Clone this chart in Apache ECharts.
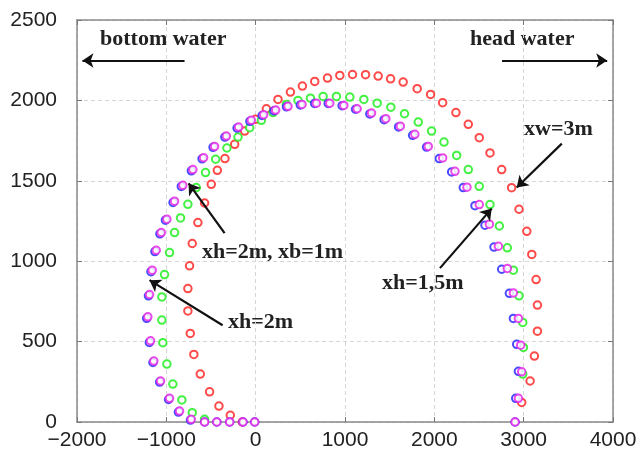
<!DOCTYPE html>
<html>
<head>
<meta charset="utf-8">
<script src="https://cdn.jsdelivr.net/npm/echarts@6/dist/echarts.min.js"></script>
<style>
  html, body { margin: 0; padding: 0; background: #fff; }
  #main { width: 642px; height: 458px; }
</style>
</head>
<body>
<div id="main"></div>
<script>
// point lists: [x, y]
var redPts = [
  [-150, 0], [-284, 42], [-411, 99], [-516, 188], [-620, 298], [-692, 420], [-732, 551],
  [-759, 691], [-759, 830], [-740, 971], [-710, 1110], [-647, 1240], [-572, 1362],
  [-497, 1478], [-429, 1565], [-344, 1638], [-235, 1727], [-123, 1809], [-3, 1882],
  [120, 1948], [250, 2006], [389, 2052], [523, 2089], [661, 2118], [804, 2139],
  [942, 2155], [1084, 2161], [1230, 2160], [1371, 2151], [1510, 2134], [1651, 2114],
  [1808, 2073], [1958, 2037], [2093, 1986], [2242, 1924], [2380, 1851], [2503, 1768],
  [2623, 1673], [2754, 1570], [2865, 1457], [2948, 1323], [3035, 1186], [3091, 1042],
  [3139, 886], [3154, 727], [3154, 565], [3120, 410], [3072, 255], [2978, 122]
];
var greenPts = [
  [-572, 17], [-710, 58], [-826, 137], [-927, 236], [-994, 360], [-1039, 493],
  [-1050, 634], [-1050, 778], [-1020, 917], [-964, 1054], [-908, 1178], [-841, 1269],
  [-759, 1354], [-665, 1458], [-561, 1551], [-448, 1634], [-322, 1704], [-198, 1772],
  [-67, 1830], [64, 1876], [194, 1924], [344, 1975], [474, 2000], [613, 2014],
  [755, 2025], [904, 2025], [1054, 2021], [1211, 2006], [1360, 1983], [1513, 1958],
  [1666, 1917], [1820, 1865], [1969, 1809], [2108, 1741], [2250, 1658], [2380, 1570],
  [2503, 1466], [2623, 1352], [2728, 1219], [2817, 1083], [2885, 944], [2948, 785],
  [2990, 619], [2997, 464], [2990, 298]
];
var bluePts = [
  [-11, 0], [-142, 0], [-291, 0], [-435, 0], [-572, 0], [-730, 12], [-865, 62],
  [-975, 140], [-1075, 248], [-1150, 370], [-1190, 495], [-1220, 645], [-1200, 785],
  [-1172, 935], [-1128, 1060], [-1072, 1170], [-1010, 1255], [-925, 1365], [-832, 1465],
  [-720, 1562], [-600, 1637], [-477, 1708], [-345, 1772], [-208, 1828], [-65, 1870],
  [72, 1906], [205, 1935], [345, 1960], [500, 1972], [660, 1981], [812, 1981],
  [968, 1967], [1118, 1945], [1278, 1916], [1438, 1880], [1600, 1835], [1757, 1783],
  [1913, 1710], [2055, 1638], [2194, 1555], [2324, 1458], [2455, 1345], [2567, 1224],
  [2668, 1088], [2754, 950], [2840, 800], [2885, 644], [2922, 483], [2941, 315],
  [2911, 147], [2904, 0]
];
var magentaPts = [
  [-11, 0], [-142, 0], [-291, 0], [-435, 0], [-572, 0], [-721, 17], [-852, 68],
  [-964, 147], [-1065, 255], [-1140, 379], [-1177, 505], [-1207, 654], [-1188, 793],
  [-1158, 944], [-1113, 1068], [-1057, 1178], [-994, 1261], [-908, 1373], [-815, 1472],
  [-703, 1570], [-583, 1644], [-460, 1714], [-328, 1778], [-191, 1834], [-48, 1876],
  [90, 1911], [224, 1940], [362, 1963], [519, 1975], [680, 1983], [830, 1983],
  [987, 1969], [1136, 1948], [1297, 1921], [1457, 1886], [1620, 1840], [1782, 1789],
  [1932, 1714], [2093, 1642], [2231, 1559], [2365, 1460], [2503, 1352], [2616, 1230],
  [2717, 1093], [2817, 955], [2885, 803], [2941, 644], [2967, 478], [2978, 312],
  [2941, 147], [2904, 0]
];

// annotation arrows in data coordinates: [tail, tip]
var arrows = [
  [[-796, 2248], [-1939, 2248]],
  [[2758, 2248], [3935, 2248]],
  [[3427, 1731], [2922, 1458]],
  [[2063, 957], [2642, 1327]],
  [[-348, 1174], [-751, 1484]],
  [[-370, 602], [-1188, 882]]
];

var labelFont = 'Liberation Sans';
var noteFont = { fontFamily: 'Liberation Serif', fontWeight: 'bold', fontSize: 22, fill: '#222' };

var chartDom = document.getElementById('main');
var myChart = echarts.init(chartDom);

function plain(v) { return String(v).replace('-', '\u2212'); }

function pts(name, color, data, z) {
  return {
    name: name,
    type: 'scatter',
    data: data,
    symbol: 'emptyCircle',
    symbolSize: 7.5,
    z: z,
    itemStyle: { color: color, borderColor: color, borderWidth: 2.4, opacity: 0.85 }
  };
}

var axisLine = { show: true, onZero: false, lineStyle: { color: '#8a8a8a', width: 1.5 } };
var tick = { inside: true, length: 5, lineStyle: { color: '#777' } };

var option = {
  animation: false,
  grid: { left: 77, right: 29, top: 20, bottom: 36 },
  xAxis: [
    {
      type: 'value', min: -2000, max: 4000, interval: 1000,
      axisLine: axisLine, axisTick: tick,
      axisLabel: { fontFamily: labelFont, fontSize: 21, color: '#222', margin: 8, formatter: plain },
      splitLine: { show: true, lineStyle: { color: '#d6d6d6', type: [4, 3] } }
    },
    {
      type: 'value', position: 'top', min: -2000, max: 4000, interval: 1000,
      axisLine: axisLine, axisTick: tick,
      axisLabel: { show: false },
      splitLine: { show: false }
    }
  ],
  yAxis: [
    {
      type: 'value', min: 0, max: 2500, interval: 500,
      axisLine: axisLine, axisTick: tick,
      axisLabel: { fontFamily: labelFont, fontSize: 21, color: '#222', margin: 20, formatter: plain },
      splitLine: { show: true, lineStyle: { color: '#d6d6d6', type: [4, 3] } }
    },
    {
      type: 'value', position: 'right', min: 0, max: 2500, interval: 500,
      axisLine: axisLine, axisTick: tick,
      axisLabel: { show: false },
      splitLine: { show: false }
    }
  ],
  series: [
    pts('xw=3m', '#ff2a2a', redPts, 2),
    pts('xh=1,5m', '#22ee22', greenPts, 3),
    pts('xh=2m', '#2a2aff', bluePts, 4),
    pts('xh=2m, xb=1m', '#e52ae5', magentaPts, 5),
    {
      type: 'lines',
      coordinateSystem: 'cartesian2d',
      symbol: ['none', 'arrow'],
      symbolSize: 11,
      z: 10,
      lineStyle: { color: '#111', width: 2.2, opacity: 1 },
      data: arrows.map(function (a) { return { coords: a }; })
    }
  ],
  graphic: [
    { type: 'text', left: 100, top: 28, style: Object.assign({ text: 'bottom water' }, noteFont) },
    { type: 'text', left: 470, top: 28, style: Object.assign({ text: 'head water' }, noteFont) },
    { type: 'text', left: 524, top: 118, style: Object.assign({ text: 'xw=3m' }, noteFont) },
    { type: 'text', left: 382, top: 272, style: Object.assign({ text: 'xh=1,5m' }, noteFont) },
    { type: 'text', left: 202, top: 241, style: Object.assign({ text: 'xh=2m, xb=1m' }, noteFont) },
    { type: 'text', left: 228, top: 311, style: Object.assign({ text: 'xh=2m' }, noteFont) }
  ]
};

option && myChart.setOption(option);
</script>
</body>
</html>
